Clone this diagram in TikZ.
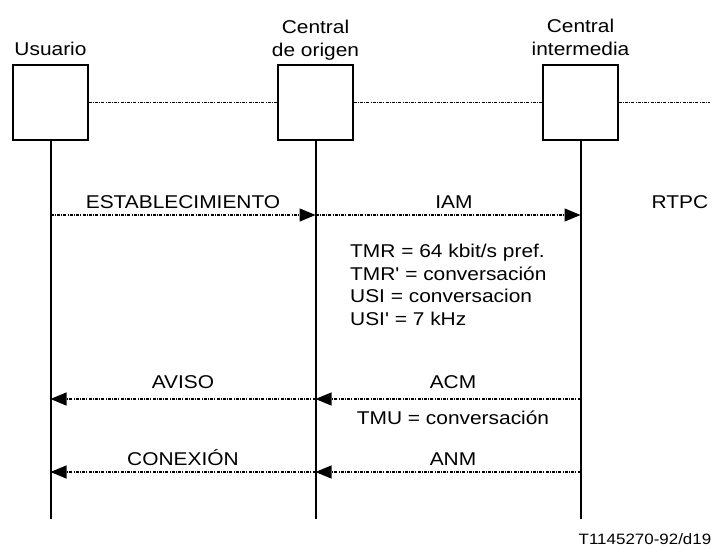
\documentclass[tikz,border=0pt]{standalone}
\usepackage{fontspec}
\newfontfamily\arialish[FakeStretch=1.13]{Liberation Sans}
\usetikzlibrary{arrows.meta, positioning}

\begin{document}
\begin{tikzpicture}[
  x=1pt, y=1pt,
  font=\arialish\fontsize{18.5}{22.5}\selectfont,
  ent/.style={rectangle, draw=black, line width=1.1pt,
              minimum width=75pt, minimum height=75pt, inner sep=0pt},
  lbl/.style={align=center, inner sep=0pt},
  life/.style={line width=2pt},
  link/.style={line width=1.1pt,
               dash pattern=on 3pt off 1.2pt on 1pt off 1.2pt},
  msg/.style={link, -{Triangle[length=16pt, width=13pt]}},
  mtxt/.style={above=6pt, inner sep=0pt}
]
\useasboundingbox (0,0) rectangle (712,-548);

% Entities
\node[ent] (usr) at (50.5,-102.5) {};
\node[ent] (org) at (315.5,-102.5) {};
\node[ent] (itm) at (580.5,-102.5) {};

\node[lbl, above=9pt of usr] (usrlbl) {Usuario};
\node[lbl, above=4pt of org] (orglbl) {Central\\de origen};
\node[lbl, above=9pt of itm] (itmlbl) {Central\\intermedia};

% Links between entities
\coordinate (pstn) at (710,-102.5);
\draw[link] (usr) -- (org);
\draw[link] (org) -- (itm);
\draw[link] (itm) -- (pstn);

% Lifelines
\coordinate (usr-end) at (50.5,-519);
\coordinate (org-end) at (315.5,-519);
\coordinate (itm-end) at (580.5,-519);
\draw[life] (usr) -- (usr-end);
\draw[life] (org) -- (org-end);
\draw[life] (itm) -- (itm-end);

% Message rows
\coordinate (usr-est) at (50.5,-215);
\coordinate (org-est) at (315.5,-215);
\coordinate (itm-est) at (580.5,-215);
\coordinate (usr-avi) at (50.5,-399);
\coordinate (org-avi) at (315.5,-399);
\coordinate (itm-avi) at (580.5,-399);
\coordinate (usr-con) at (50.5,-472);
\coordinate (org-con) at (315.5,-472);
\coordinate (itm-con) at (580.5,-472);

% Setup
\draw[msg] (usr-est) -- node[mtxt] {ESTABLECIMIENTO} (org-est);
\draw[msg] (org-est) -- node[mtxt, xshift=6pt] {IAM} (itm-est);
\node (rtpc) at (680,-202) {RTPC};

\node[anchor=north west, align=left, inner sep=0pt] (params) at (350,-244)
      {TMR = 64 kbit/s pref.\\TMR' = conversación\\USI = conversacion\\USI' = 7 kHz};

% Alerting
\draw[msg] (itm-avi) -- node[mtxt, above=10pt, xshift=5pt] {ACM} (org-avi);
\draw[msg] (org-avi) -- node[mtxt, above=10pt] {AVISO} (usr-avi);
\node (tmu) at (453,-418) {TMU = conversación};

% Connection
\draw[msg] (itm-con) -- node[mtxt, xshift=5pt] {ANM} (org-con);
\draw[msg] (org-con) -- node[mtxt] {CONEXIÓN} (usr-con);

\node[font=\arialish\fontsize{15}{18}\selectfont] (ref) at (645,-539) {T1145270-92/d19};
\end{tikzpicture}
\end{document}
